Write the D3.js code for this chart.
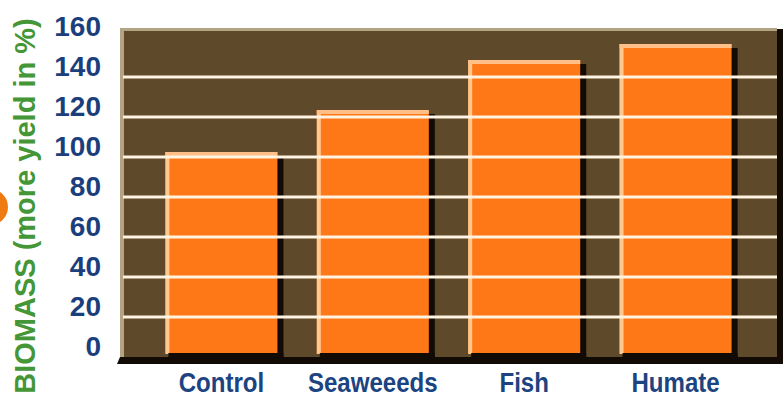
<!DOCTYPE html>
<html lang="en">
<head>
  <meta charset="UTF-8" />
  <title>Biomass yield</title>
  <script src="https://d3js.org/d3.v7.min.js"></script>
  <style>
    body { margin: 0; background: white; }
    svg { display: block; }
    .ytick { font-family: "Liberation Sans", Arial, sans-serif; font-weight: bold; font-size: 28px; fill: #1b3f7c; }
    .cat { font-family: "Liberation Sans", Arial, sans-serif; font-weight: bold; font-size: 28px; fill: #1b4480; }
    .ytitle { font-family: "Liberation Sans", Arial, sans-serif; font-weight: bold; font-size: 29px; fill: #449637; }
  </style>
</head>
<body>
<svg width="783" height="400"></svg>
<script>
const categories = ["Control", "Seaweeeds", "Fish", "Humate"];
const biomass = [100, 121, 146, 154];
const yTicks = [0, 20, 40, 60, 80, 100, 120, 140, 160];
const yTitle = "BIOMASS (more yield in %)";

const svg = d3.select("svg");
const frame = { left: 120, right: 777, top: 30, bottom: 357 };

const x = d3.scaleBand().domain(categories).range([frame.left, frame.right])
  .paddingInner(0.26).paddingOuter(0.3);
const y = d3.scaleLinear().domain([0, 160]).range([357, 37]);

// little orange blob cut off at the left edge
svg.append("circle").attr("cx", -10).attr("cy", 207).attr("r", 18).attr("fill", "#f07a12");

// plot frame with a bit of 3d
svg.append("rect").attr("x", frame.left).attr("y", frame.top - 2)
  .attr("width", frame.right - frame.left).attr("height", frame.bottom - frame.top + 2)
  .attr("fill", "#b3a583");
svg.append("rect").attr("x", frame.left + 4).attr("y", frame.top + 1)
  .attr("width", frame.right - frame.left - 4).attr("height", frame.bottom - frame.top)
  .attr("fill", "#5e4a2a");
svg.append("rect").attr("x", frame.right).attr("y", frame.top - 1)
  .attr("width", 6).attr("height", frame.bottom - frame.top + 8).attr("fill", "#120a04");
svg.append("path")
  .attr("d", `M${frame.left},${frame.bottom} L${frame.right + 6},${frame.bottom} L${frame.right + 6},${frame.bottom + 7} L${frame.left - 3},${frame.bottom + 7} Z`)
  .attr("fill", "#120a04");

// bars
const data = categories.map((c, i) => ({ cat: c, value: biomass[i] }));
const bars = svg.selectAll("g.bar").data(data).join("g").attr("class", "bar");
const base = y(0) - 3;
bars.append("rect") // shadow on right
  .attr("x", d => x(d.cat) + x.bandwidth() - 1)
  .attr("y", d => y(d.value) - 1)
  .attr("width", 7)
  .attr("height", d => base - y(d.value) + 5)
  .attr("fill", "#120a04");
bars.append("rect")
  .attr("x", d => x(d.cat))
  .attr("y", d => y(d.value) - 5)
  .attr("width", x.bandwidth())
  .attr("height", d => base - y(d.value) + 5)
  .attr("fill", "#ff7818");
bars.append("rect") // left highlight
  .attr("x", d => x(d.cat))
  .attr("y", d => y(d.value) - 5)
  .attr("width", 4)
  .attr("height", d => base - y(d.value) + 5)
  .attr("fill", "#ffc88e");
bars.append("rect") // top highlight
  .attr("x", d => x(d.cat))
  .attr("y", d => y(d.value) - 5)
  .attr("width", x.bandwidth())
  .attr("height", 4)
  .attr("fill", "#ffbf86");
bars.append("rect") // bottom shadow
  .attr("x", d => x(d.cat) + 3)
  .attr("y", base - 1)
  .attr("width", x.bandwidth() + 3)
  .attr("height", 6)
  .attr("fill", "#120a04");

// gridlines over the bars
svg.selectAll("line.grid").data(yTicks.filter(t => t > 0 && t < 160)).join("line")
  .attr("class", "grid")
  .attr("x1", frame.left + 3).attr("x2", frame.right)
  .attr("y1", d => y(d)).attr("y2", d => y(d))
  .attr("stroke", "#fff4e2").attr("stroke-width", 3);

// y axis labels
const yAxis = svg.append("g").attr("transform", "translate(101,0)")
  .call(d3.axisLeft(y).tickValues(yTicks).tickSize(0).tickPadding(0));
yAxis.select(".domain").remove();
yAxis.selectAll("text").attr("class", "ytick").attr("fill", null)
  .attr("y", -11).attr("dy", "0.35em");

// category labels, squeezed to look condensed
svg.selectAll("text.cat").data(categories).join("text")
  .attr("class", "cat")
  .attr("transform", d => `translate(${x(d) + x.bandwidth() / 2},392) scale(0.86,1)`)
  .attr("text-anchor", "middle")
  .text(d => d);

svg.append("text").attr("class", "ytitle")
  .attr("transform", "translate(35,206) rotate(-90)")
  .attr("text-anchor", "middle")
  .text(yTitle);
</script>
</body>
</html>
